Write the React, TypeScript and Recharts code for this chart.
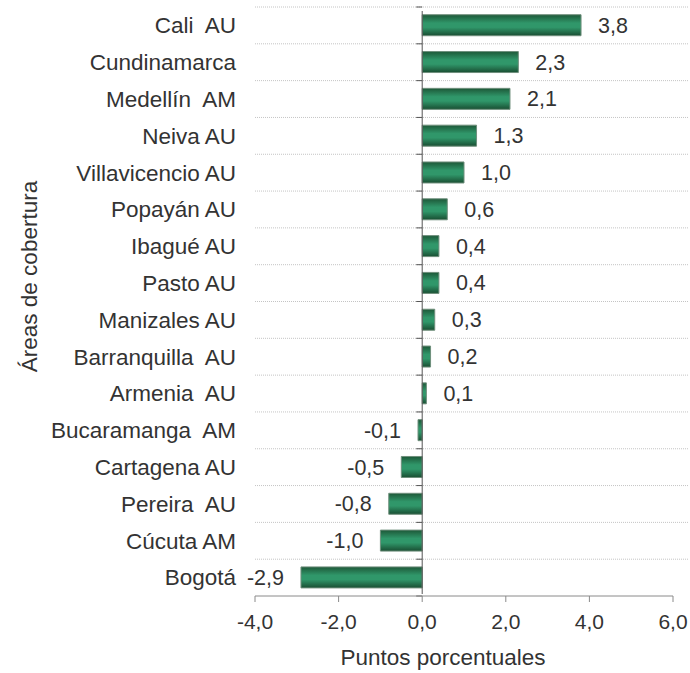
import React from "react";
import {
  BarChart,
  Bar,
  XAxis,
  YAxis,
  CartesianGrid,
  ReferenceLine,
  LabelList,
} from "recharts";

// áreas de cobertura, de arriba hacia abajo
const areas = [
  "Cali  AU",
  "Cundinamarca",
  "Medellín  AM",
  "Neiva AU",
  "Villavicencio AU",
  "Popayán AU",
  "Ibagué AU",
  "Pasto AU",
  "Manizales AU",
  "Barranquilla  AU",
  "Armenia  AU",
  "Bucaramanga  AM",
  "Cartagena AU",
  "Pereira  AU",
  "Cúcuta AM",
  "Bogotá",
];

const puntos = [3.8, 2.3, 2.1, 1.3, 1.0, 0.6, 0.4, 0.4, 0.3, 0.2, 0.1, -0.1, -0.5, -0.8, -1.0, -2.9];

const xTicks = [-4, -2, 0, 2, 4, 6];

const data = areas.map((name, i) => ({ name, value: puntos[i] }));

const FONT = "'Liberation Sans', Arial, sans-serif";
const TEXT = "#333333";

const fmt = (v: number) => v.toFixed(1).replace(".", ",");

const CategoryTick = (props: any) => {
  const { x, y, payload } = props;
  return (
    <text
      x={x}
      y={y}
      dy="0.35em"
      textAnchor="end"
      fill={TEXT}
      fontSize={22.5}
      fontFamily={FONT}
      style={{ whiteSpace: "pre" }}
    >
      {payload.value}
    </text>
  );
};

const ValueLabel = (props: any) => {
  const { x, y, width, height, value } = props;
  const v = Number(value);
  const end = v >= 0 ? Math.max(x, x + width) : Math.min(x, x + width);
  return (
    <text
      x={v >= 0 ? end + 17 : end - 17}
      y={y + height / 2}
      dy="0.35em"
      textAnchor={v >= 0 ? "start" : "end"}
      fill={TEXT}
      fontSize={21.5}
      fontFamily={FONT}
    >
      {fmt(v)}
    </text>
  );
};

// línea del cero con marcas entre categorías
const ZeroLine = (props: any) => {
  const { x1, y1, y2 } = props;
  const step = (y2 - y1) / areas.length;
  const marks = [];
  for (let i = 0; i <= areas.length; i++) {
    const yy = y1 + i * step;
    marks.push(<line key={i} x1={x1 - 6} x2={x1} y1={yy} y2={yy} stroke="#555" />);
  }
  return (
    <g>
      <line x1={x1} x2={x1} y1={y1 - 2} y2={y2 + 4} stroke="#555" strokeWidth={1} />
      {marks}
    </g>
  );
};

const GridLine = (props: any) => {
  const { x1, x2, y1, y2 } = props;
  return (
    <line
      x1={x1}
      x2={x2 + 15}
      y1={y1}
      y2={y2}
      stroke="#c4c4c4"
      strokeDasharray="1 1"
    />
  );
};

export default function App() {
  return (
    <div style={{ position: "absolute", left: 0, top: 0, background: "#fff" }}>
      <BarChart
        width={690}
        height={673}
        data={data}
        layout="vertical"
        margin={{ top: 7, right: 17, bottom: 0, left: 0 }}
        barCategoryGap="21%"
      >
        <defs>
          <linearGradient id="barGrad" x1="0" y1="0" x2="0" y2="1">
            <stop offset="0%" stopColor="#1d5838" />
            <stop offset="40%" stopColor="#30976a" />
            <stop offset="60%" stopColor="#30976a" />
            <stop offset="100%" stopColor="#194e32" />
          </linearGradient>
        </defs>
        <CartesianGrid
          vertical={false}
          horizontal={GridLine}
          horizontalCoordinatesGenerator={({ offset }: any) =>
            areas.map((_, i) => offset.top + (i * offset.height) / areas.length)
          }
        />
        <XAxis
          type="number"
          domain={[-4, 6]}
          ticks={xTicks}
          tickFormatter={fmt}
          height={77}
          stroke="#8a8a8a"
          tickSize={6}
          tickMargin={12}
          tick={{ fill: TEXT, fontSize: 21, fontFamily: FONT }}
          label={{
            content: ({ viewBox }: any) => (
              <text
                x={viewBox.x + viewBox.width / 2 - 21}
                y={viewBox.y + 69}
                textAnchor="middle"
                fill={TEXT}
                fontSize={22.5}
                fontFamily={FONT}
              >
                Puntos porcentuales
              </text>
            ),
          }}
        />
        <YAxis
          type="category"
          dataKey="name"
          width={255}
          axisLine={false}
          tickLine={false}
          tickSize={0}
          tickMargin={19}
          interval={0}
          tick={<CategoryTick />}
          label={{
            content: ({ viewBox }: any) => {
              const cx = viewBox.x + 29;
              const cy = viewBox.y + viewBox.height / 2 - 25;
              return (
                <text
                  x={cx}
                  y={cy}
                  dy="0.35em"
                  textAnchor="middle"
                  transform={`rotate(-90 ${cx} ${cy})`}
                  fill={TEXT}
                  fontSize={22.5}
                  fontFamily={FONT}
                >
                  Áreas de cobertura
                </text>
              );
            },
          }}
        />
        <Bar
          dataKey="value"
          fill="url(#barGrad)"
          stroke="#6f8f7c"
          strokeWidth={1}
          isAnimationActive={false}
        >
          <LabelList dataKey="value" content={<ValueLabel />} />
        </Bar>
        <ReferenceLine x={0} shape={<ZeroLine />} />
      </BarChart>
    </div>
  );
}
